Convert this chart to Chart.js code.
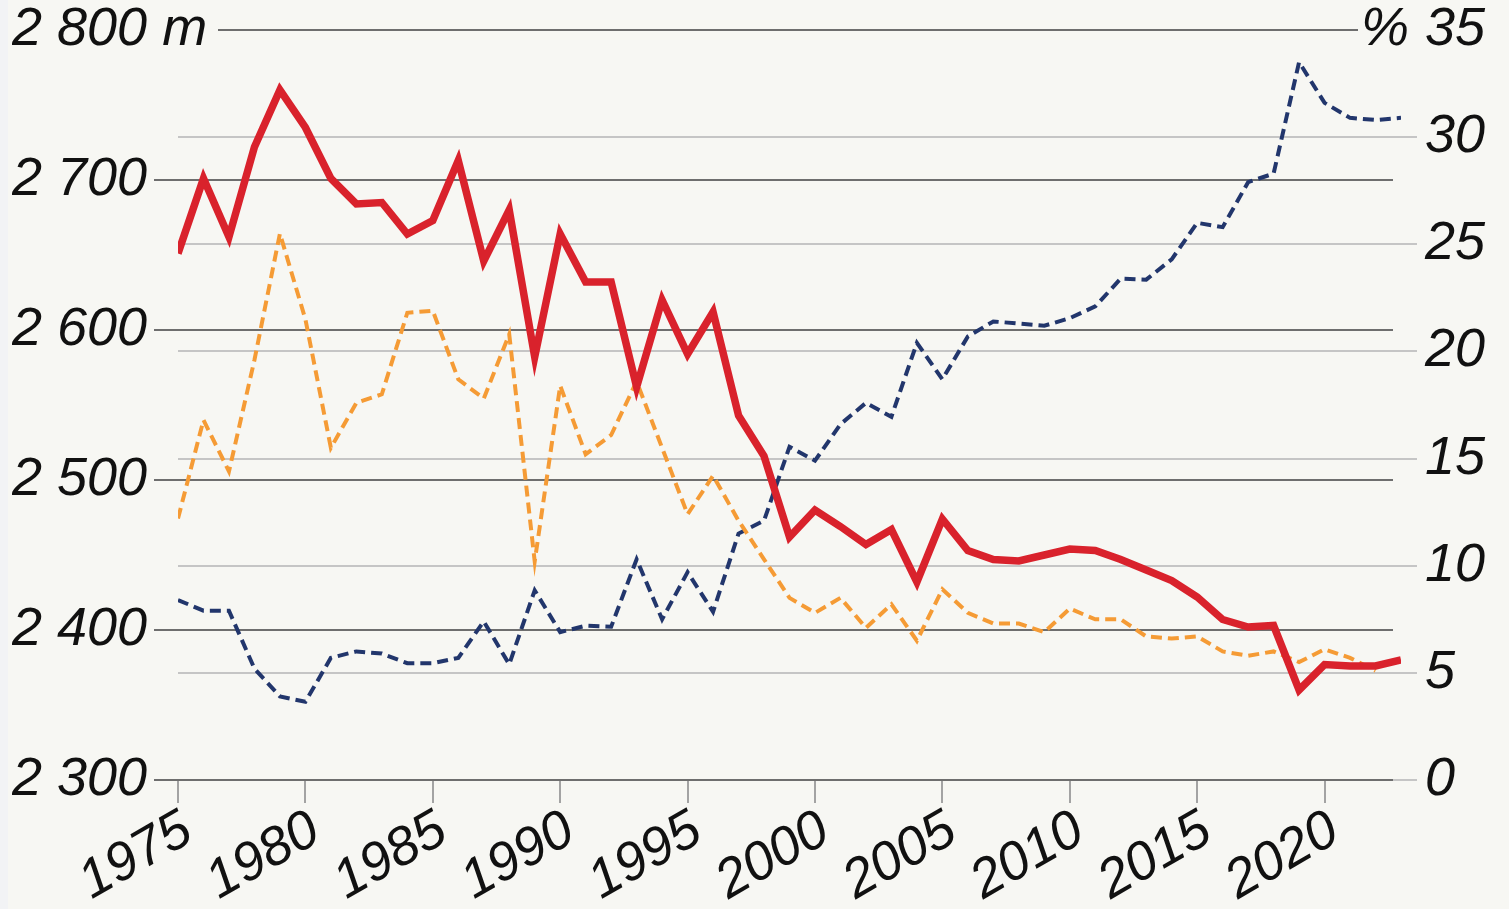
<!DOCTYPE html>
<html>
<head>
<meta charset="utf-8">
<script src="https://cdn.jsdelivr.net/npm/chart.js@4.4.1/dist/chart.umd.min.js"></script>
<style>
  html, body { margin: 0; padding: 0; background: #f7f7f3; overflow: hidden; }
  #wrap { position: relative; width: 1509px; height: 909px; }
  #strip { position: absolute; left: 0; top: 0; width: 8px; height: 909px; background: #f2f3f5; }
</style>
</head>
<body>
<div id="wrap">
  <div id="strip"></div>
  <canvas id="altitudeChart"></canvas>
</div>
<script>
// Años y series
const years = [
  1975, 1976, 1977, 1978, 1979, 1980, 1981, 1982, 1983, 1984,
  1985, 1986, 1987, 1988, 1989, 1990, 1991, 1992, 1993, 1994,
  1995, 1996, 1997, 1998, 1999, 2000, 2001, 2002, 2003, 2004,
  2005, 2006, 2007, 2008, 2009, 2010, 2011, 2012, 2013, 2014,
  2015, 2016, 2017, 2018, 2019, 2020, 2021, 2022, 2023
];

// Altitud en metros (eje izquierdo)
const altitude = [
  2651, 2701, 2662, 2722, 2760, 2735, 2701, 2684, 2685, 2664,
  2673, 2713, 2646, 2680, 2582, 2664, 2632, 2632, 2562, 2620,
  2584, 2612, 2543, 2516, 2462, 2480, 2469, 2457, 2467, 2432,
  2474, 2453, 2447, 2446, 2450, 2454, 2453, 2447, 2440, 2433,
  2422, 2407, 2402, 2403, 2360, 2377, 2376, 2376, 2380
];

// Porcentajes (eje derecho)
const pctOrange = [
  12.2, 16.8, 14.4, 19.6, 25.5, 21.5, 15.5, 17.6, 18.0, 21.8,
  21.9, 18.7, 17.8, 20.8, 10.2, 18.4, 15.2, 16.1, 18.6, 15.5,
  12.4, 14.2, 12.1, 10.3, 8.5, 7.8, 8.5, 7.1, 8.2, 6.5,
  8.9, 7.8, 7.3, 7.3, 6.9, 8.0, 7.5, 7.5, 6.7, 6.6,
  6.7, 6.0, 5.8, 6.0, 5.5, 6.1, 5.7, 5.1, null
];

const pctNavy = [
  8.4, 7.9, 7.9, 5.2, 3.9, 3.65, 5.7, 6.0, 5.9, 5.45,
  5.45, 5.7, 7.4, 5.4, 8.85, 6.9, 7.2, 7.15, 10.3, 7.5,
  9.7, 7.85, 11.5, 12.1, 15.55, 14.9, 16.6, 17.6, 16.95, 20.4,
  18.7, 20.7, 21.4, 21.3, 21.2, 21.55, 22.1, 23.4, 23.35, 24.3,
  26.0, 25.8, 27.9, 28.3, 33.5, 31.6, 30.9, 30.8, 30.9
];

// Ejes
const altMin = 2300, altMax = 2800, altStep = 100;
const pctMin = 0, pctMax = 35, pctStep = 5;
const yearTicks = [1975, 1980, 1985, 1990, 1995, 2000, 2005, 2010, 2015, 2020];

const FONT = "'Liberation Sans', Arial, sans-serif";
const FONT_SIZE = 54;
const LABEL_FONT = 'italic ' + FONT_SIZE + 'px ' + FONT;

function toPoints(values) {
  return years.map((y, i) => ({ x: y, y: values[i] }));
}

function fmtThousands(v) {
  const s = String(v);
  return s.length > 3 ? s.slice(0, s.length - 3) + ' ' + s.slice(-3) : s;
}

// sin relleno extra arriba/abajo: el área útil la fija layout.padding
function fitY(width) {
  return scale => {
    scale.width = width;
    scale.paddingTop = 0;
    scale.paddingBottom = 0;
  };
}

// Líneas de cuadrícula propias (oscuras para metros, claras para %)
const gridPlugin = {
  id: 'customGrid',
  beforeDatasetsDraw(chart) {
    const { ctx, chartArea, scales } = chart;
    const yL = scales.yL, yR = scales.yR;
    ctx.save();
    ctx.lineWidth = 2;

    ctx.strokeStyle = '#c5c5c5';
    yR.ticks.forEach(t => {
      if (t.value === pctMax) return;
      const y = Math.round(yR.getPixelForValue(t.value));
      ctx.beginPath();
      ctx.moveTo(chartArea.left, y);
      ctx.lineTo(chartArea.right + 16, y);
      ctx.stroke();
    });

    ctx.strokeStyle = '#6e6e6e';
    yL.ticks.forEach(t => {
      const y = Math.round(yL.getPixelForValue(t.value));
      ctx.beginPath();
      if (t.value === altMax) {
        ctx.moveTo(chartArea.left + 40, y);
        ctx.lineTo(chartArea.right - 43, y);
      } else {
        ctx.moveTo(chartArea.left - 24, y);
        ctx.lineTo(chartArea.right - 8, y);
      }
      ctx.stroke();
    });
    ctx.restore();
  },
  afterDraw(chart) {
    // unidades junto a las etiquetas superiores
    const { ctx, scales } = chart;
    const yL = scales.yL, yR = scales.yR;
    ctx.save();
    ctx.font = LABEL_FONT;
    ctx.fillStyle = '#111';
    ctx.textBaseline = 'middle';
    ctx.textAlign = 'left';
    const w = ctx.measureText(fmtThousands(altMax) + ' ').width;
    ctx.fillText('m', yL.left + w, yL.getPixelForValue(altMax));
    ctx.textAlign = 'right';
    ctx.fillText('%', yR.left + 8, yR.getPixelForValue(pctMax));
    ctx.restore();
  }
};

document.addEventListener('DOMContentLoaded', function() {
  const ctx = document.getElementById('altitudeChart').getContext('2d');
  const tickFont = { family: FONT, size: FONT_SIZE, style: 'italic', lineHeight: 1 };

  window.altitudeChart = new Chart(ctx, {
    type: 'line',
    data: {
      datasets: [
        {
          label: 'Altitud',
          data: toPoints(altitude),
          yAxisID: 'yL',
          borderColor: '#d9222c',
          borderWidth: 7.5,
          borderJoinStyle: 'miter',
          pointRadius: 0,
          tension: 0,
          order: 1
        },
        {
          label: 'Naranja',
          data: toPoints(pctOrange),
          yAxisID: 'yR',
          borderColor: '#f59b35',
          borderWidth: 4,
          borderDash: [11, 6],
          pointRadius: 0,
          tension: 0,
          spanGaps: false,
          order: 2
        },
        {
          label: 'Azul',
          data: toPoints(pctNavy),
          yAxisID: 'yR',
          borderColor: '#22366c',
          borderWidth: 4,
          borderDash: [11, 6],
          pointRadius: 0,
          tension: 0,
          order: 3
        }
      ]
    },
    options: {
      responsive: true,
      maintainAspectRatio: false,
      animation: false,
      layout: { padding: { top: 30, left: 12, right: 0, bottom: 0 } },
      plugins: {
        legend: { display: false },
        tooltip: { enabled: false }
      },
      scales: {
        x: {
          type: 'linear',
          min: years[0],
          max: years[years.length - 1],
          afterBuildTicks: scale => {
            scale.ticks = yearTicks.map(v => ({ value: v }));
          },
          afterFit: scale => { scale.height = 129; },
          border: { display: false },
          grid: {
            drawOnChartArea: false,
            drawTicks: true,
            tickLength: 23,
            color: '#a3a3a3',
            lineWidth: 2
          },
          ticks: {
            font: tickFont,
            color: '#111',
            minRotation: 30,
            maxRotation: 30,
            padding: 0,
            labelOffset: 10,
            autoSkip: false,
            callback: v => String(v)
          }
        },
        yL: {
          position: 'left',
          min: altMin,
          max: altMax,
          afterFit: fitY(166),
          border: { display: false },
          grid: { display: false, drawTicks: false },
          ticks: {
            stepSize: altStep,
            font: tickFont,
            color: '#111',
            crossAlign: 'far',
            callback: v => fmtThousands(v)
          }
        },
        yR: {
          position: 'right',
          min: pctMin,
          max: pctMax,
          afterFit: fitY(108),
          border: { display: false },
          grid: { display: false, drawTicks: false },
          ticks: {
            stepSize: pctStep,
            font: tickFont,
            color: '#111',
            padding: 24,
            callback: v => String(v)
          }
        }
      }
    },
    plugins: [gridPlugin]
  });
});
</script>
</body>
</html>
